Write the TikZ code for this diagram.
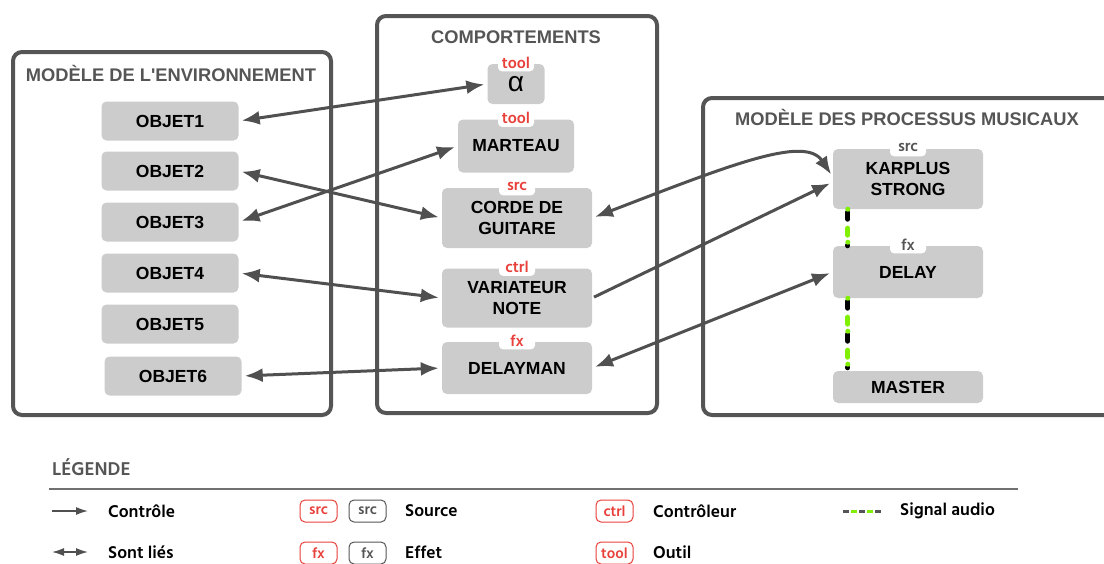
\documentclass[tikz,border=0pt]{standalone}
\usepackage{fontspec}
\setmainfont{Liberation Sans}
\newfontfamily\hindfont{Hind Siliguri}
\usetikzlibrary{arrows.meta,calc}

\definecolor{boxgray}{HTML}{CCCCCC}
\definecolor{panelgray}{HTML}{555555}
\definecolor{arrowgray}{HTML}{505050}
\definecolor{tagred}{HTML}{E8403A}
\definecolor{siggreen}{HTML}{80F000}
\definecolor{rulegray}{HTML}{707070}

\tikzset{
	panel/.style={draw=panelgray, line width=4pt, rounded corners=9pt},
	paneltitle/.style={text=panelgray, inner sep=0pt, font=\fontsize{18.3}{20}\selectfont\bfseries},
	bloc/.style={fill=boxgray, rounded corners=5pt, align=center, inner sep=0pt, font=\fontsize{17.5}{21}\selectfont\bfseries},
	tag/.style={fill=white, rounded corners=4pt, minimum width=36pt, minimum height=17pt, inner sep=0pt, font=\hindfont\fontsize{16}{16}\selectfont\bfseries},
	lien/.style={draw=arrowgray, line width=3pt, {Latex[length=18pt,width=14pt]}-{Latex[length=18pt,width=14pt]}, shorten <=3pt, shorten >=3pt},
	controle/.style={draw=arrowgray, line width=3pt, -{Latex[length=18pt,width=14pt]}, shorten <=2pt, shorten >=3pt},
	sigline/.style={line width=5pt, line cap=round},
	legtext/.style={anchor=west, inner sep=0pt, font=\hindfont\fontsize{17.5}{19}\selectfont\bfseries},
	legtag/.style={draw, line width=1pt, rounded corners=5pt, minimum width=37pt, minimum height=22pt, inner sep=0pt, font=\hindfont\fontsize{15}{15}\selectfont\bfseries},
}

\begin{document}
\begin{tikzpicture}[x=1pt, y=-1pt]
			%%%%% START %%%%%
			\useasboundingbox (0,0) rectangle (1104,563);
			
			% panneaux
			\draw[panel] (13,52) rectangle (331,415);
			\draw[panel] (377,16) rectangle (657,413);
			\draw[panel] (703,98) rectangle (1114,415);
			\node[paneltitle] (envtitle) at (171,73) {MODÈLE DE L\textquotesingle ENVIRONNEMENT};
			\node[paneltitle] (comptitle) at (516,37) {COMPORTEMENTS};
			\node[paneltitle] (musititle) at (907,117) {MODÈLE DES PROCESSUS MUSICAUX};
			
			% objets
			\node[bloc, minimum width=137pt, minimum height=39pt] (o1) at (170,121) {OBJET1};
			\node[bloc, minimum width=137pt, minimum height=39pt] (o2) at (170,171) {OBJET2};
			\node[bloc, minimum width=137pt, minimum height=39pt] (o3) at (170,222) {OBJET3};
			\node[bloc, minimum width=137pt, minimum height=39pt] (o4) at (170,273) {OBJET4};
			\node[bloc, minimum width=137pt, minimum height=39pt] (o5) at (170,324) {OBJET5};
			\node[bloc, minimum width=137pt, minimum height=39pt] (o6) at (173,376) {OBJET6};
			
			% comportements
			\node[bloc, minimum width=57pt, minimum height=40pt, font=\fontsize{28}{28}\selectfont] (alpha) at (516,84) {\raisebox{-3pt}{α}};
			\node[bloc, minimum width=116pt, minimum height=53pt] (marteau) at (516,146) {MARTEAU};
			\node[bloc, minimum width=150pt, minimum height=60pt] (corde) at (517,218) {CORDE DE\\GUITARE};
			\node[bloc, minimum width=150pt, minimum height=59pt] (variateur) at (517,298) {VARIATEUR\\NOTE};
			\node[bloc, minimum width=150pt, minimum height=52pt] (delayman) at (517,368) {DELAYMAN};
			\node[tag, text=tagred] (t-alpha) at ($(alpha.north)+(0,-1)$) {tool};
			\node[tag, text=tagred] (t-marteau) at ($(marteau.north)+(0,-1)$) {tool};
			\node[tag, text=tagred] (t-corde) at ($(corde.north)+(0,-1)$) {src};
			\node[tag, text=tagred] (t-variateur) at ($(variateur.north)+(0,-1)$) {ctrl};
			\node[tag, text=tagred] (t-delayman) at ($(delayman.north)+(0,-1)$) {fx};
			
			% processus musicaux
			\node[bloc, minimum width=150pt, minimum height=60pt] (karplus) at (908,179) {KARPLUS\\STRONG};
			\node[bloc, minimum width=150pt, minimum height=52pt] (delay) at (908,272) {DELAY};
			\node[bloc, minimum width=150pt, minimum height=32pt] (master) at (908,387) {MASTER};
			\node[tag, text=panelgray] (t-karplus) at ($(karplus.north)+(0,-1)$) {src};
			\node[tag, text=panelgray] (t-delay) at ($(delay.north)+(0,-1)$) {fx};
			
			% signal audio
			\draw[sigline, black, dash pattern=on 7pt off 26pt, shorten <=3pt] ($(karplus.south west)+(15,0)$) -- ($(delay.north west)+(15,0)$);
			\draw[sigline, siggreen, dash pattern=on 0pt off 19pt on 7pt off 7pt] ($(karplus.south west)+(15,0)$) -- ($(delay.north west)+(15,0)$);
			\draw[sigline, black, dash pattern=on 7pt off 26pt, shorten <=3pt, shorten >=3pt] ($(delay.south west)+(15,0)$) -- ($(master.north west)+(15,0)$);
			\draw[sigline, siggreen, dash pattern=on 0pt off 19pt on 7pt off 7pt] ($(delay.south west)+(15,0)$) -- ($(master.north west)+(15,0)$);
			
			% liens
			\draw[lien] (o1.east) -- (alpha.west);
			\draw[lien] (o3.east) -- (marteau.west);
			\draw[lien] (o2.east) -- (corde.west);
			\draw[lien] (o4.east) -- (variateur.west);
			\draw[lien] (o6.east) -- (delayman.west);
			\draw[lien] (corde.east) .. controls (730,165) and (805,135) .. ($(karplus.west)+(0,-2)$);
			\draw[controle] (variateur.east) -- ($(karplus.west)+(0,3)$);
			\draw[lien] (delayman.east) -- (delay.west);
			
			% legende
			\node[anchor=west, inner sep=0pt, text=panelgray, font=\hindfont\fontsize{19}{20}\selectfont\bfseries] (legende) at (52,467) {LÉGENDE};
			\draw[rulegray, line width=1.5pt] (49,489) -- (1018,489);
			
			\coordinate (c1) at (52,511);
			\coordinate (c2) at (88,511);
			\coordinate (l1) at (52,552);
			\coordinate (l2) at (88,552);
			\draw[arrowgray, line width=1.5pt, -{Latex[length=12pt,width=8pt]}] (c1) -- (c2);
			\draw[arrowgray, line width=1.5pt, {Latex[length=12pt,width=8pt]}-{Latex[length=12pt,width=8pt]}] (l1) -- (l2);
			\node[legtext] (controle) at (108,511) {Contrôle};
			\node[legtext] (lies) at (108,552) {Sont liés};
			
			\node[legtag, tagred] (srcred) at (318.5,511) {src};
			\node[legtag, panelgray] (srcgray) at (367.5,511) {src};
			\node[legtext] (source) at (405,511) {Source};
			\node[legtag, tagred] (fxred) at (318.5,553) {fx};
			\node[legtag, panelgray] (fxgray) at (367.5,553) {fx};
			\node[legtext] (effet) at (405,552) {Effet};
			
			\node[legtag, tagred] (ctrlred) at (614.5,511) {ctrl};
			\node[legtext] (controleur) at (653,511) {Contrôleur};
			\node[legtag, tagred] (toolred) at (614.5,553) {tool};
			\node[legtext] (outil) at (653,552) {Outil};
			
			\coordinate (s1) at (843,511);
			\coordinate (s2) at (882,511);
			\draw[line width=3pt, panelgray, dash pattern=on 6pt off 10pt] (s1) -- (s2);
			\draw[line width=3pt, siggreen, dash pattern=on 0pt off 8pt on 6pt off 2pt] (s1) -- (s2);
			\node[legtext] (signal) at (900,511) {Signal audio};
			
			%%%%% END %%%%%
\end{tikzpicture}
\end{document}
